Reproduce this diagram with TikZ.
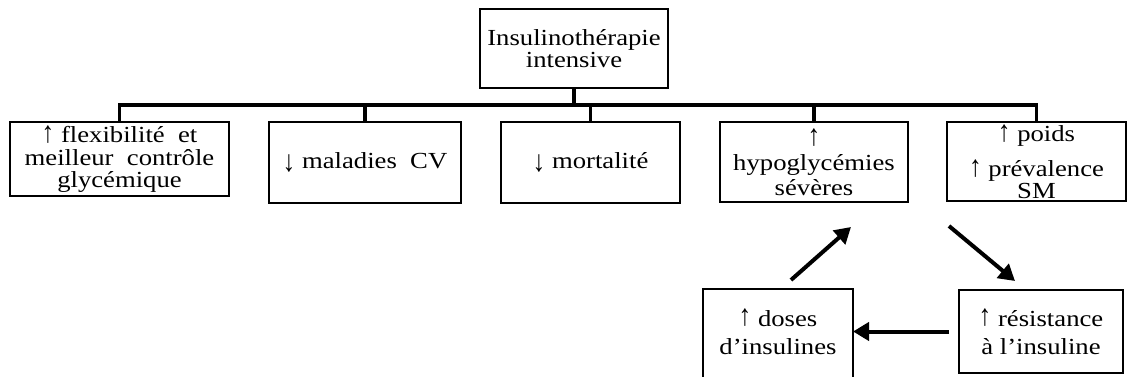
\documentclass[tikz,border=0pt]{standalone}
\usepackage{graphicx}
\usepackage{fontspec}
\setmainfont{Liberation Serif}[FakeStretch=1.16]
\usetikzlibrary{arrows.meta}
\newcommand\myup{\raisebox{0.02em}{\scalebox{0.95}[1.3]{↑}}}
\newcommand\mydown{\raisebox{-0.15em}{\scalebox{0.95}[1.3]{↓}}}
\begin{document}
\begin{tikzpicture}[x=1pt,y=-1pt,
  box/.style={draw, line width=2.6pt, inner sep=0pt, align=center, font=\fontsize{23}{21.5}\selectfont},
  lowbox/.style={line width=2pt, inner sep=0pt, align=center, font=\fontsize{23}{28}\selectfont, minimum height=83pt},
  conn/.style={line width=3.2pt},
  arr/.style={line width=4pt, -{Triangle[length=16pt,width=18pt]}},
]
\fill[white] (0,0) rectangle (1128,377);
\useasboundingbox (0,0) rectangle (1128,377);

\node[box, minimum width=188pt, minimum height=79pt] (top) at (574,48.5) {Insulinothérapie\\intensive};

\node[box, minimum width=219pt, minimum height=74pt, font=\fontsize{23}{22.5}\selectfont] (b1) at (119.5,159) {\myup{} flexibilité\ \ et\\meilleur\ \ contrôle\\glycémique};
\node[box, minimum width=192pt, minimum height=81pt] (b2) at (365,162.5) {\mydown{} maladies\ \ CV};
\node[box, minimum width=179pt, minimum height=81pt] (b3) at (590.5,162.5) {\mydown{} mortalité};
\node[box, minimum width=188pt, minimum height=80pt, font=\fontsize{23}{25}\selectfont] (b4) at (814,162) {\myup\\hypoglycémies\\sévères};
\node[box, minimum width=179pt, minimum height=79pt] (b5) at (1036.5,161.5) {\myup{} poids\\[12pt]\myup{} prévalence\\SM};

\coordinate (bus) at (574,105);
\draw[conn] (top.south) -- (bus);
\draw[conn] (b1.north) -- (b1.north |- bus) -- (b5.north |- bus) -- (b5.north);
\foreach \n in {b2,b3,b4} \draw[conn] (\n.north) -- (\n.north |- bus);

\node[lowbox, draw, minimum width=164pt] (res) at (1041,331.5) {\myup{} résistance\\à l’insuline};
\node[lowbox, minimum width=148pt] (doses) at (778,331.5) {\myup{} doses\\d’insulines};
\draw[line width=2pt] ([yshift=-20pt]doses.south west) -- (doses.north west) -- (doses.north east) -- ([yshift=-20pt]doses.south east);

\coordinate (u1) at (791,280);
\coordinate (u2) at (851,227);
\coordinate (d1) at (949,226);
\coordinate (d2) at (1015,281);
\draw[arr] (u1) -- (u2);
\draw[arr] (d1) -- (d2);
\draw[arr] ([xshift=-9pt]res.west) -- (doses.east);
\end{tikzpicture}
\end{document}
